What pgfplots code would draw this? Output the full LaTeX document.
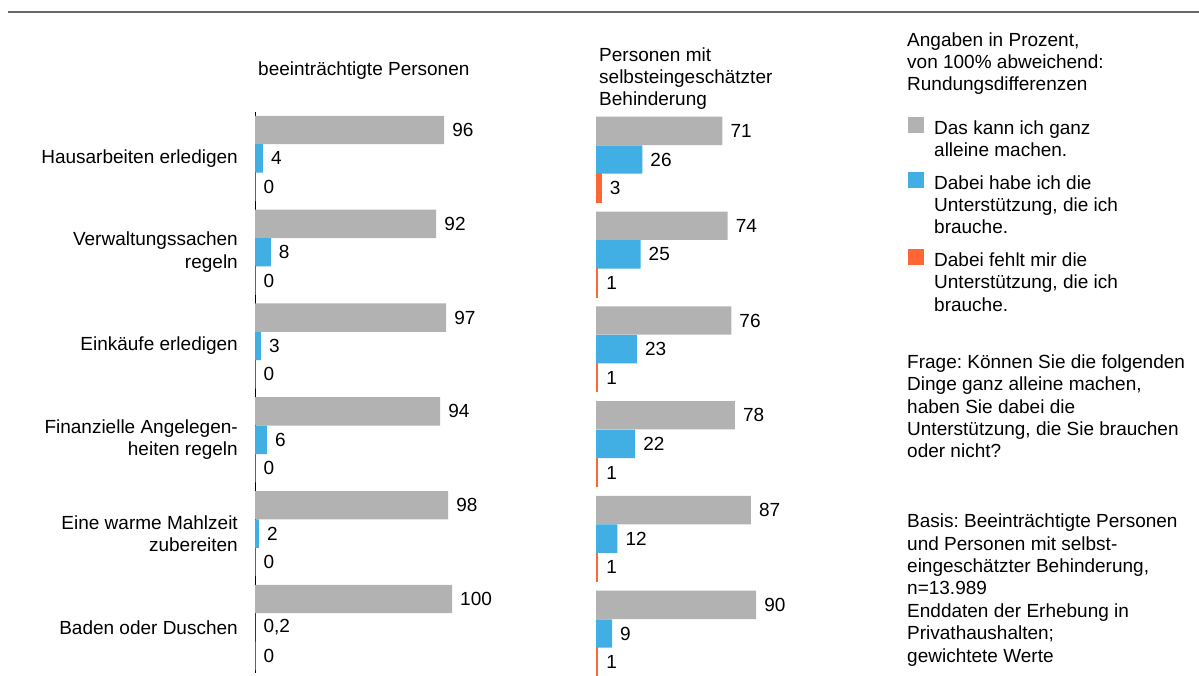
\documentclass[border=0pt]{standalone}
\usepackage{pgfplots}
\pgfplotsset{compat=1.18}
\usepackage{fontspec}
\setmainfont{Liberation Sans}
\frenchspacing

\definecolor{cgray}{RGB}{178,178,178}
\definecolor{cblue}{RGB}{65,175,228}
\definecolor{corange}{RGB}{255,102,51}
\definecolor{crule}{RGB}{105,105,105}

\newcommand{\fs}{\fontsize{19}{22.4}\selectfont}

\pgfplotsset{
  panel/.style={
    xbar, scale only axis,
    xmin=0, xmax=100,
    y dir=reverse,
    bar width=28.4pt,
    hide x axis,
    clip=false,
    major tick length=0pt,
    nodes near coords,
    every node near coord/.append style={anchor=west, inner sep=0pt, xshift=8pt, font=\fs, text=black},
    /pgf/number format/use comma,
    /pgf/number format/assume math mode=true,
  },
  sgray/.style={fill=cgray, draw=none},
  sblue/.style={fill=cblue, draw=none},
  sorange/.style={fill=corange, draw=corange, line width=1pt},
}

\begin{document}
\begin{tikzpicture}[x=1pt,y=1pt]
\useasboundingbox (0,0) rectangle (1199,675);
\draw[crule, line width=2pt] (8,663) -- (1199,663);

% beeintraechtigte Personen
\begin{axis}[panel,
  at={(255pt,563pt)}, anchor=north west,
  width=197pt, height=561pt,
  ymin=-0.495, ymax=5.486,
  axis y line=left, y axis line style={-, black, line width=1pt},
  ytick={0,...,5},
  yticklabels={Hausarbeiten erledigen, {Verwaltungssachen\\regeln}, Einkäufe erledigen,
    {Finanzielle Angelegen-\\heiten regeln}, {Eine warme Mahlzeit\\zubereiten}, Baden oder Duschen},
  yticklabel style={align=right, font=\fs, inner sep=0pt, xshift=-17pt},
]
\addplot[sgray, bar shift=28.4pt] coordinates {(96,0) (92,1) (97,2) (94,3) (98,4) (100,5)};
\addplot[sblue, bar shift=0pt] coordinates {(4,0) (8,1) (3,2) (6,3) (2,4) (0.2,5)};
\addplot[sorange, bar shift=-28.4pt] coordinates {(0,0) (0,1) (0,2) (0,3) (0,4) (0,5)};
\end{axis}

% Personen mit selbsteingeschaetzter Behinderung
\begin{axis}[panel,
  at={(596pt,559pt)}, anchor=north west,
  width=178pt, height=559pt,
  ymin=-0.459, ymax=5.438,
  axis line style={draw=none},
  ytick=\empty,
  legend cell align=left,
  legend style={at={(1.7528,0.998)}, anchor=north west, draw=none, fill=none,
    inner sep=0pt, row sep=12pt, column sep=8pt, font=\fs,
    cells={align=left, anchor=north west, inner sep=0pt}},
  legend image code/.code={\fill[#1, draw=none] (0pt,-15pt) rectangle (16pt,1pt);},
]
\addplot[sgray, bar shift=28.6pt] coordinates {(71,0) (74,1) (76,2) (78,3) (87,4) (90,5)};
\addlegendentry{Das kann ich ganz\\alleine machen.}
\addplot[sblue, bar shift=0pt] coordinates {(26,0) (25,1) (23,2) (22,3) (12,4) (9,5)};
\addlegendentry{Dabei habe ich die\\Unterstützung, die ich\\brauche.}
\addplot[sorange, bar shift=-28.6pt] coordinates {(3,0) (1,1) (1,2) (1,3) (1,4) (1,5)};
\addlegendentry{Dabei fehlt mir die\\Unterstützung, die ich\\brauche.}
\end{axis}

% anchor=base west puts the LAST line's baseline at the given point
\node[anchor=base west, inner sep=0pt, font=\fs] at (258,599) {beeinträchtigte Personen};
\node[anchor=base west, inner sep=0pt, font=\fs, align=left] at (599,569)
  {Personen mit\\selbsteingeschätzter\\Behinderung};
\node[anchor=base west, inner sep=0pt, font=\fs, align=left] at (907,584)
  {Angaben in Prozent,\\von 100\% abweichend:\\Rundungsdifferenzen};
\node[anchor=base west, inner sep=0pt, font=\fs, align=left] at (907,217)
  {Frage: Können Sie die folgenden\\Dinge ganz alleine machen,\\haben Sie dabei die\\Unterstützung, die Sie brauchen\\oder nicht?};
\node[anchor=base west, inner sep=0pt, font=\fs, align=left] at (907,13)
  {Basis: Beeinträchtigte Personen\\und Personen mit selbst-\\eingeschätzter Behinderung,\\n=13.989\\Enddaten der Erhebung in\\Privathaushalten;\\gewichtete Werte};
\end{tikzpicture}
\end{document}
